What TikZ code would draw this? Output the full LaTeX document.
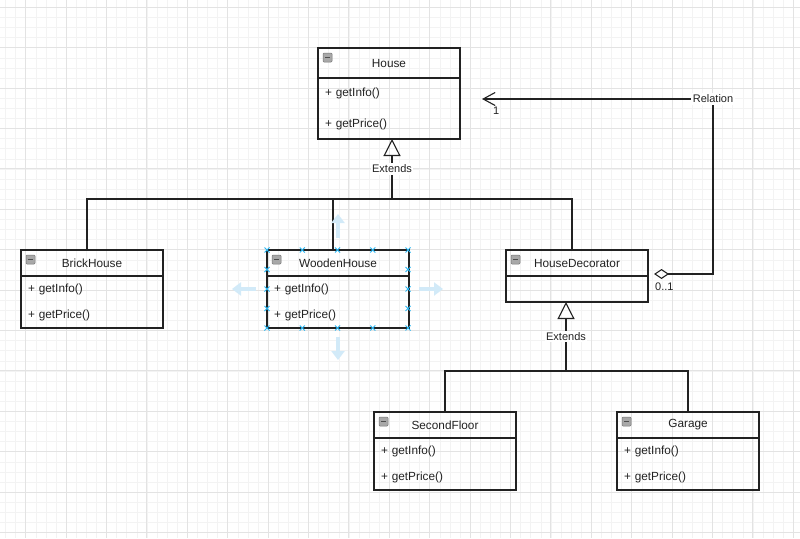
\documentclass[tikz,border=0pt]{standalone}
\usepackage{fontspec}
\setmainfont{Liberation Sans}
\usepackage{tikz}
\usetikzlibrary{arrows.meta,positioning}
\definecolor{Ink}{HTML}{222222}
\definecolor{GridMinor}{HTML}{F3F3F3}
\definecolor{GridMajor}{HTML}{E3E3E3}
\definecolor{SelBlue}{HTML}{29B6F2}
\definecolor{HintBlue}{HTML}{D2EAF8}
\definecolor{IconGray}{HTML}{A8A8A8}

\begin{document}
\begin{tikzpicture}[x=1pt,y=-1pt,line join=miter,
    every node/.style={font=\fontsize{11.8}{14}\selectfont,text=Ink},
    classhead/.style={draw=Ink,line width=1.2pt,outer sep=0pt,anchor=north west,
      minimum width=142pt,minimum height=26pt,inner sep=0pt},
    classbody/.style={draw=Ink,line width=1.2pt,outer sep=0pt,align=left,
      text width=128pt,inner xsep=7pt,inner ysep=0pt,minimum height=52pt},
    conn/.style={Ink,line width=1.1pt},
    extends/.style={conn,-{Triangle[open,length=17pt,width=17pt]}},
    lbl/.style={fill=white,inner sep=1.5pt,font=\fontsize{11}{13}\selectfont},
    selx/.style={SelBlue,line width=0.9pt},
    hint/.style={HintBlue,line width=4.5pt,-{Triangle[length=9pt,width=13pt]}}]

  \useasboundingbox (0,0) rectangle (800,538);
  \fill[white] (0,0) rectangle (800,538);

  % grid
  \foreach \i in {0,...,78}
    \draw[GridMinor,line width=0.6pt] ({5.5+10.1*\i},0) -- ({5.5+10.1*\i},538);
  \foreach \j in {0,...,52}
    \draw[GridMinor,line width=0.6pt] (0,{7.3+10.1*\j}) -- (800,{7.3+10.1*\j});
  \foreach \i in {0,...,19}
    \draw[GridMajor,line width=0.9pt] ({25.7+40.4*\i},0) -- ({25.7+40.4*\i},538);
  \foreach \j in {0,...,13}
    \draw[GridMajor,line width=0.9pt] (0,{7.3+40.4*\j}) -- (800,{7.3+40.4*\j});

  % classes
  \node[classhead,minimum height=30pt] (househ) at (318,48) {House};
  \node[classbody,minimum height=61pt,below=0pt of househ,
        font=\fontsize{11.8}{31}\selectfont] (houseb) {+ getInfo()\\+ getPrice()};

  \node[classhead] (brickh) at (21,250) {BrickHouse};
  \node[classbody,below=0pt of brickh,font=\fontsize{11.8}{26}\selectfont] (brickb)
    {+ getInfo()\\+ getPrice()};

  \node[classhead] (woodh) at (267,250) {WoodenHouse};
  \node[classbody,below=0pt of woodh,font=\fontsize{11.8}{26}\selectfont] (woodb)
    {+ getInfo()\\+ getPrice()};

  \node[classhead] (decoh) at (506,250) {HouseDecorator};
  \node[classbody,minimum height=26pt,below=0pt of decoh] (decob) {};

  \node[classhead] (secondh) at (374,412) {SecondFloor};
  \node[classbody,below=0pt of secondh,font=\fontsize{11.8}{26}\selectfont] (secondb)
    {+ getInfo()\\+ getPrice()};

  \node[classhead] (garageh) at (617,412) {Garage};
  \node[classbody,below=0pt of garageh,font=\fontsize{11.8}{26}\selectfont] (garageb)
    {+ getInfo()\\+ getPrice()};

  % collapse icons
  \foreach \c in {househ,brickh,woodh,decoh,secondh,garageh} {
    \filldraw[fill=IconGray,draw=IconGray!70!black,line width=0.5pt,rounded corners=1pt]
      ([xshift=5pt,yshift=-5pt]\c.north west) rectangle ++(9,9);
    \draw[Ink!80,line width=1pt] ([xshift=7pt,yshift=-9.5pt]\c.north west) -- ++(5,0);
  }

  % inheritance trees
  \coordinate (join1) at (392,199);
  \coordinate (join2) at (566,371);
  \draw[conn] ([xshift=-5pt]brickh.north) |- (join1);
  \draw[conn] ([xshift=-5pt]woodh.north) |- (join1);
  \draw[conn] ([xshift=-5pt]decoh.north) |- (join1);
  \draw[extends] (join1) -- node[lbl] (ext1) {Extends} (join1 |- houseb.south);

  \draw[conn] (secondh.north) |- (join2);
  \draw[conn] (garageh.north) |- (join2);
  \draw[extends] (join2) -- node[lbl] (ext2) {Extends} (join2 |- decob.south);

  % relation
  \coordinate (relend) at (482,99);
  \draw[conn,{Diamond[open,length=15pt,width=10pt]}-{Straight Barb[length=12pt,width=13pt]}]
    ([xshift=6pt,yshift=2pt]decoh.south east) -- ++(59,0)
    |- node[lbl,pos=0.5] (rel) {Relation} (relend);
  \node[font=\fontsize{11}{13}\selectfont,anchor=north west,inner sep=0pt] (mult0)
    at (655,283) {0..1};
  \node[font=\fontsize{11}{13}\selectfont,anchor=north west,inner sep=0pt] (mult1)
    at (493,107) {1};

  % selection handles on WoodenHouse
  \foreach \hx in {267,302.25,337.5,372.75,408} {
    \draw[selx] (\hx,250) ++(-2.5,-2.5) -- ++(5,5) ++(0,-5) -- ++(-5,5);
    \draw[selx] (\hx,328) ++(-2.5,-2.5) -- ++(5,5) ++(0,-5) -- ++(-5,5);
  }
  \foreach \hy in {269.5,289,308.5} {
    \draw[selx] (267,\hy) ++(-2.5,-2.5) -- ++(5,5) ++(0,-5) -- ++(-5,5);
    \draw[selx] (408,\hy) ++(-2.5,-2.5) -- ++(5,5) ++(0,-5) -- ++(-5,5);
  }
  \draw[hint] (338,238) -- (338,214);
  \draw[hint] (338,337) -- (338,360);
  \draw[hint] (256,289) -- (232,289);
  \draw[hint] (419,289) -- (443,289);
\end{tikzpicture}
\end{document}
